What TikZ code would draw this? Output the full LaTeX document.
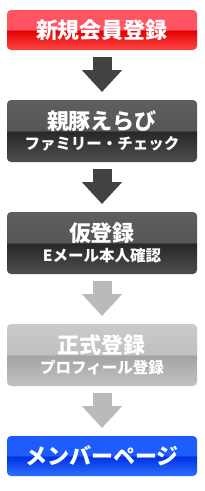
\documentclass[tikz,border=0pt]{standalone}
\usepackage{fontspec}
\setmainfont{Noto Sans CJK JP}
\usetikzlibrary{arrows.meta,positioning}
\definecolor{redtop}{RGB}{255,84,98}
\definecolor{redmid}{RGB}{228,0,0}
\definecolor{redbot}{RGB}{252,70,70}
\definecolor{darktop}{RGB}{94,94,94}
\definecolor{darkmid}{RGB}{40,40,40}
\definecolor{darkbot}{RGB}{78,78,78}
\definecolor{greytop}{RGB}{202,202,202}
\definecolor{greymid}{RGB}{164,164,164}
\definecolor{greybot}{RGB}{194,194,194}
\definecolor{bluetop}{RGB}{30,92,255}
\definecolor{bluemid}{RGB}{0,48,226}
\definecolor{bluebot}{RGB}{44,112,255}
\definecolor{arrowdark}{RGB}{66,66,66}
\definecolor{arrowlight}{RGB}{186,186,186}
% glossy fills: flat top half, dark band in the middle, lighter bottom
\pgfdeclareverticalshading{redgloss}{100bp}{color(0bp)=(redbot); color(25bp)=(redbot); color(49.5bp)=(redmid); color(50.5bp)=(redtop); color(75bp)=(redtop); color(100bp)=(redtop)}
\pgfdeclareverticalshading{darkgloss}{100bp}{color(0bp)=(darkbot); color(25bp)=(darkbot); color(49.5bp)=(darkmid); color(50.5bp)=(darktop!92!black); color(75bp)=(darktop); color(100bp)=(darktop)}
\pgfdeclareverticalshading{greygloss}{100bp}{color(0bp)=(greybot); color(25bp)=(greybot); color(49.5bp)=(greymid); color(50.5bp)=(greytop!95!black); color(75bp)=(greytop); color(100bp)=(greytop)}
\pgfdeclareverticalshading{bluegloss}{100bp}{color(0bp)=(bluebot); color(25bp)=(bluebot); color(49.5bp)=(bluemid); color(50.5bp)=(bluetop); color(75bp)=(bluetop); color(100bp)=(bluetop)}
\newcommand{\headtxt}{\fontsize{22}{24}\selectfont}
\newcommand{\subtxt}{\fontsize{15.5}{17}\selectfont}

\begin{document}
\begin{tikzpicture}[x=1pt,y=1pt,font=\bfseries,
 box/.style={shade,rounded corners=4pt,minimum width=190pt,inner sep=0pt,outer sep=0pt,text=white,align=center},
 one/.style={box,minimum height=40pt},
 two/.style={box,minimum height=62pt},
 go/.style={line width=19pt,-{Triangle[width=39pt,length=22pt]},shorten <=7pt,shorten >=8pt}]
 \useasboundingbox (0,0) rectangle (204,-491);
 \node[one,shading=redgloss](entry) at (102,-30){\headtxt 新規会員登録};
 \node[two,shading=darkgloss,below=50pt of entry](pick){\headtxt 親豚えらび\\[4pt]\subtxt ファミリー・チェック};
 \node[two,shading=darkgloss,below=50pt of pick](temp){\headtxt 仮登録\\[4pt]\subtxt Eメール本人確認};
 \node[two,shading=greygloss,below=50pt of temp](full){\headtxt 正式登録\\[4pt]\subtxt プロフィール登録};
 \node[one,shading=bluegloss,below=50pt of full](member){\headtxt メンバーページ};
 \draw[go,arrowdark](entry)--(pick);
 \draw[go,arrowdark](pick)--(temp);
 \draw[go,arrowlight](temp)--(full);
 \draw[go,arrowlight](full)--(member);
\end{tikzpicture}
\end{document}
